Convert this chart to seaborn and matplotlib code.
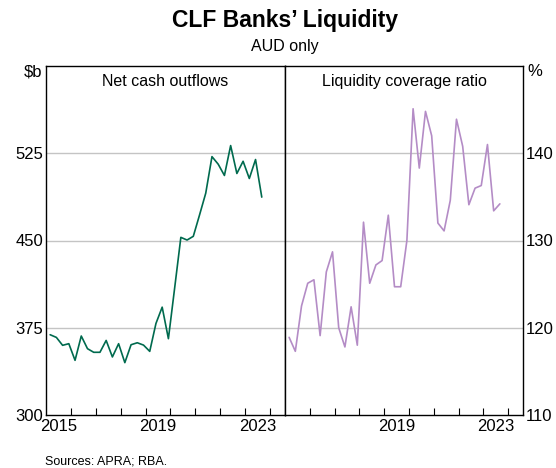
import seaborn as sns
import matplotlib.pyplot as plt
import numpy as np
import pandas as pd

# quarterly observations, Mar 2015 to Sep 2023
dates = pd.date_range("2015-03-01", "2023-09-01", freq="3MS")

net_cash_outflows = [369.0, 366.7, 359.9, 361.3, 347.0, 367.9, 357.0, 353.9, 353.9, 364.1,
                     349.9, 361.3, 345.0, 360.4, 362.1, 360.1, 354.7, 378.7, 392.7, 365.6,
                     409.0, 452.7, 450.4, 453.6, 471.9, 490.7, 522.1, 515.6, 505.9, 531.6,
                     507.6, 518.1, 503.3, 519.6, 487.3]

lcr = [118.9, 117.3, 122.5, 125.1, 125.5, 119.1, 126.4, 128.7, 120.0, 117.8,
       122.4, 118.0, 132.1, 125.1, 127.2, 127.7, 132.9, 124.7, 124.7, 130.0,
       145.1, 138.3, 144.8, 142.0, 132.0, 131.1, 134.6, 143.9, 140.8, 134.1,
       136.0, 136.3, 141.0, 133.4, 134.2]

left_yticks = [375, 450, 525]
right_yticks = [120, 130, 140]
left_years = [2015, 2019, 2023]
right_years = [2019, 2023]

GREEN = "#006A4E"
PURPLE = "#B48CC6"
GRID = "#C4C4C4"

df = pd.DataFrame({
    "x": dates.year + (dates.month - 1) / 12,
    "nco": net_cash_outflows,
    "lcr": lcr,
})

sns.set_theme(style="white")
plt.rcParams['font.family'] = ['Liberation Sans', 'DejaVu Sans']
plt.rcParams['text.color'] = 'black'
plt.rcParams['xtick.color'] = 'black'
plt.rcParams['ytick.color'] = 'black'
plt.rcParams['xtick.bottom'] = True

fig = plt.figure(figsize=(5.56, 4.68), dpi=100)
ax1 = fig.add_axes([46 / 556, 1 - 415 / 468, 239 / 556, 349 / 468])
ax2 = fig.add_axes([285 / 556, 1 - 415 / 468, 238 / 556, 349 / 468])

sns.lineplot(data=df, x="x", y="nco", ax=ax1, color=GREEN, linewidth=1.2)
sns.lineplot(data=df, x="x", y="lcr", ax=ax2, color=PURPLE, linewidth=1.2)

for ax, lim, yt, yrs, title in [
    (ax1, (300, 600), left_yticks, left_years, "Net cash outflows"),
    (ax2, (110, 150), right_yticks, right_years, "Liquidity coverage ratio"),
]:
    ax.set_xlim(2015, 2024.6)
    ax.set_ylim(*lim)
    ax.set_xlabel("")
    ax.set_ylabel("")
    for v in yt:
        ax.axhline(v, color=GRID, linewidth=1.0, zorder=0)
    # year boundaries as small inward ticks, labels centred on each year
    ax.set_xticks(np.arange(2016, 2025))
    ax.set_xticklabels([])
    ax.set_xticks([y + 0.5 for y in yrs], minor=True)
    ax.set_xticklabels([str(y) for y in yrs], minor=True, fontsize=12)
    ax.tick_params(axis="x", which="major", bottom=True, direction="in", length=5,
                   width=0.8, color="black")
    ax.tick_params(axis="x", which="minor", bottom=True, length=0, pad=3)
    for s in ax.spines.values():
        s.set_color("black")
        s.set_linewidth(1.0)
    ax.text(0.5, 0.955, title, transform=ax.transAxes, ha="center", va="center", fontsize=11.5)

ax1.set_yticks([300] + left_yticks)
ax1.set_yticklabels(["300"] + [str(v) for v in left_yticks], fontsize=12)
ax1.tick_params(axis="y", length=0, pad=2)

ax2.yaxis.tick_right()
ax2.set_yticks([110] + right_yticks)
ax2.set_yticklabels(["110"] + [str(v) for v in right_yticks], fontsize=12)
ax2.tick_params(axis="y", length=0, pad=2)

fig.text(42 / 556, 1 - 72 / 468, "\\$b", ha="right", va="center", fontsize=12)
fig.text(527 / 556, 1 - 72 / 468, "%", ha="left", va="center", fontsize=12)

fig.text(285 / 556, 1 - 20 / 468, "CLF Banks\u2019 Liquidity", ha="center", va="center",
         fontsize=16.5, fontweight="bold")
fig.text(285 / 556, 1 - 47 / 468, "AUD only", ha="center", va="center", fontsize=11.5)
fig.text(45 / 556, 1 - 462 / 468, "Sources: APRA; RBA.", ha="left", va="center", fontsize=9)

plt.savefig("out.png", dpi=100)
